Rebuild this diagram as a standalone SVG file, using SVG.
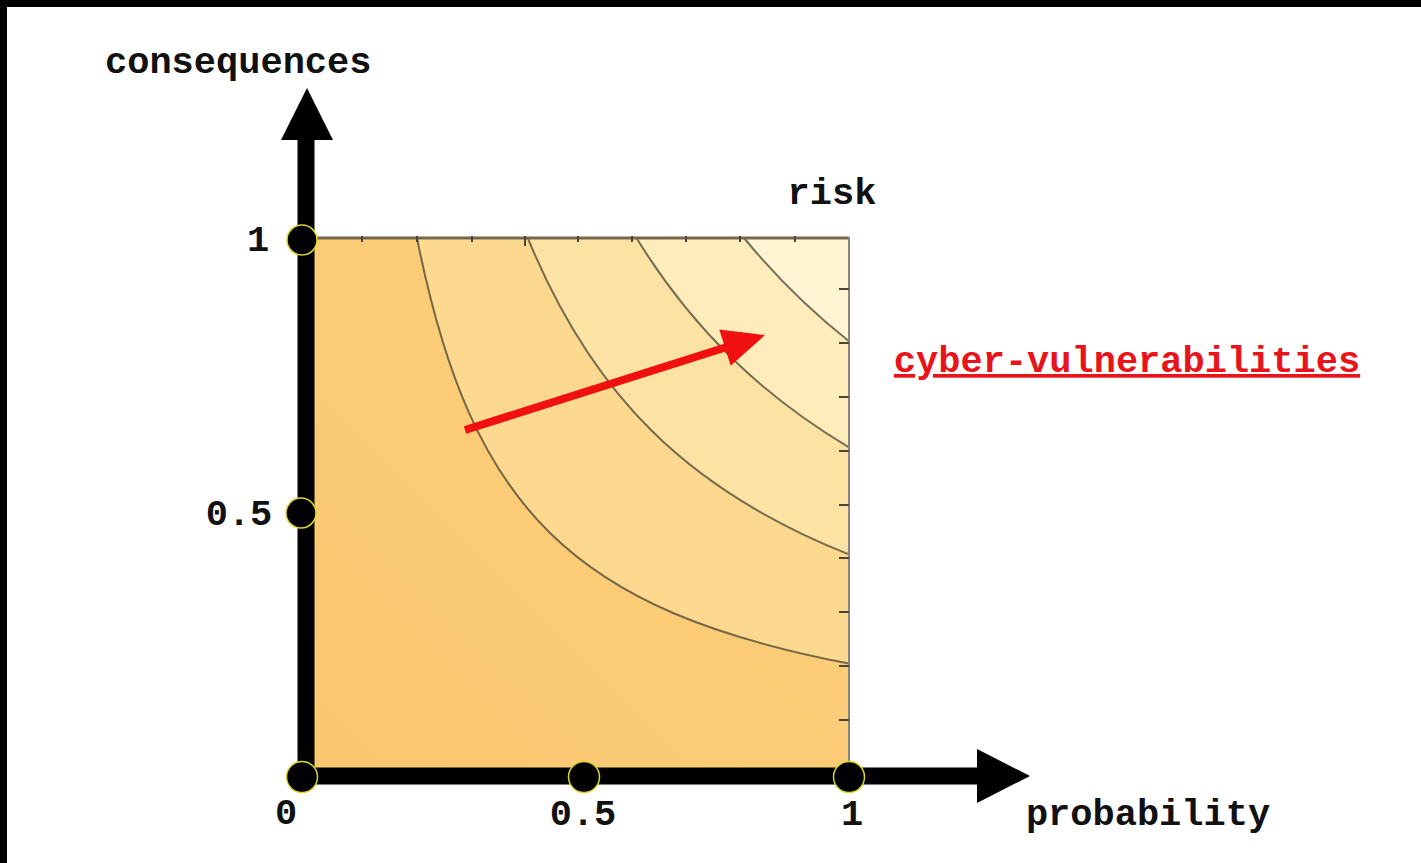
<svg xmlns="http://www.w3.org/2000/svg" width="1421" height="863" viewBox="0 0 1421 863">
  <style>
    text { font-family: "Liberation Mono", "Courier New", monospace; font-weight: bold; font-size: 37px; fill: #111; }
    .red { fill: #E8141B; }
    .contour { fill: none; stroke: #3c3a2c; stroke-opacity: 0.7; stroke-width: 2; }
    .tick { stroke: #4a4438; stroke-width: 2; }
    .dot { fill: #000; stroke: #d9d62a; stroke-width: 1.5; }
    .axis { stroke: #000; stroke-width: 17; }
  </style>
  <defs>
    <linearGradient id="g0" x1="0" y1="1" x2="1" y2="0">
      <stop offset="0" stop-color="#FBC870"/>
      <stop offset="1" stop-color="#FCCF7E"/>
    </linearGradient>
  </defs>
  <rect x="0" y="0" width="1421" height="863" fill="#fff"/>
  <rect x="0" y="0" width="1421" height="7" fill="#000"/>
  <rect x="0" y="0" width="7" height="863" fill="#000"/>

  <g id="plot">
    <rect x="311" y="238" width="538" height="530" fill="url(#g0)"/>
    <path d="M417,238 C471.4,510.2 572.7,610 849,663.6 L849,238 Z" fill="#FCD98E"/>
    <path d="M527.8,238 C592.4,395.9 688.7,490.8 849,554.4 L849,238 Z" fill="#FDE3A3"/>
    <path d="M636.5,238 C690.7,326.4 759.3,393.9 849,447.3 L849,238 Z" fill="#FEEDBB"/>
    <path d="M744.1,238 C775.4,276.3 810.1,310.5 849,341.3 L849,238 Z" fill="#FFF5D3"/>
    <g id="contours">
      <path class="contour" d="M417,238 C471.4,510.2 572.7,610 849,663.6"/>
      <path class="contour" d="M527.8,238 C592.4,395.9 688.7,490.8 849,554.4"/>
      <path class="contour" d="M636.5,238 C690.7,326.4 759.3,393.9 849,447.3"/>
      <path class="contour" d="M744.1,238 C775.4,276.3 810.1,310.5 849,341.3"/>
    </g>
    <line x1="311" y1="238" x2="849" y2="238" stroke="#76684f" stroke-width="3"/>
    <line x1="849" y1="237" x2="849" y2="768" stroke="#8a8578" stroke-width="2"/>
    <g id="ticks">
      <line class="tick" x1="849" y1="289" x2="839" y2="289"/>
      <line class="tick" x1="849" y1="343" x2="839" y2="343"/>
      <line class="tick" x1="849" y1="397" x2="839" y2="397"/>
      <line class="tick" x1="849" y1="451" x2="839" y2="451"/>
      <line class="tick" x1="849" y1="505" x2="839" y2="505"/>
      <line class="tick" x1="849" y1="558" x2="839" y2="558"/>
      <line class="tick" x1="849" y1="612" x2="839" y2="612"/>
      <line class="tick" x1="849" y1="666" x2="839" y2="666"/>
      <line class="tick" x1="849" y1="720" x2="839" y2="720"/>
      <line class="tick" x1="362" y1="236" x2="362" y2="242"/>
      <line class="tick" x1="417" y1="236" x2="417" y2="242"/>
      <line class="tick" x1="472" y1="236" x2="472" y2="242"/>
      <line class="tick" x1="525" y1="236" x2="525" y2="246"/>
      <line class="tick" x1="578" y1="236" x2="578" y2="242"/>
      <line class="tick" x1="632" y1="236" x2="632" y2="242"/>
      <line class="tick" x1="686" y1="236" x2="686" y2="242"/>
      <line class="tick" x1="740" y1="236" x2="740" y2="242"/>
      <line class="tick" x1="795" y1="236" x2="795" y2="242"/>
    </g>
  </g>

  <g id="axes">
    <g id="y-axis">
      <line class="axis" x1="306" y1="138" x2="306" y2="785"/>
      <polygon points="281,140 333,140 307,88" fill="#000"/>
    </g>
    <g id="x-axis">
      <line class="axis" x1="297" y1="776" x2="979" y2="776"/>
      <polygon points="977,749 977,803 1030,776" fill="#000"/>
    </g>
  </g>

  <g id="connectors">
    <g id="trend-arrow">
      <line x1="465" y1="430" x2="730" y2="346" stroke="#F01010" stroke-width="8"/>
      <polygon points="765,335 730.7,365.8 719.3,329.6" fill="#F01010"/>
    </g>
  </g>

  <g id="markers">
    <circle id="c-y1" class="dot" cx="302" cy="240" r="15"/>
    <circle id="c-y05" class="dot" cx="301" cy="513" r="15"/>
    <circle id="c-origin" class="dot" cx="302" cy="777" r="15.5"/>
    <circle id="c-x05" class="dot" cx="584" cy="777" r="15.5"/>
    <circle id="c-x1" class="dot" cx="849" cy="777" r="15.5"/>
  </g>

  <g id="labels">
    <text id="t-consequences" x="105" y="73">consequences</text>
    <text id="t-y1" x="258" y="251" text-anchor="middle">1</text>
    <text id="t-y05" x="239" y="525" text-anchor="middle">0.5</text>
    <text id="t-x0" x="286" y="824" text-anchor="middle">0</text>
    <text id="t-x05" x="583" y="825" text-anchor="middle">0.5</text>
    <text id="t-x1" x="852" y="825" text-anchor="middle">1</text>
    <text id="t-probability" x="1148" y="825" text-anchor="middle">probability</text>
    <text id="t-risk" x="832" y="204" text-anchor="middle">risk</text>
    <text id="t-cyber" class="red" x="1127" y="372" text-anchor="middle" text-decoration="underline">cyber-vulnerabilities</text>
  </g>
</svg>
